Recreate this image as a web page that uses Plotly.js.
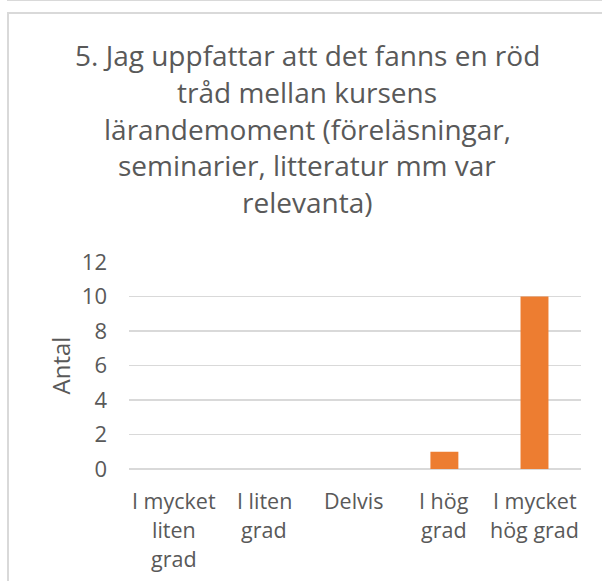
<!DOCTYPE html>
<html>
<head>
<meta charset="utf-8">
<script src="https://cdn.plot.ly/plotly-3.0.1.min.js"></script>
<style>
  html, body { margin: 0; padding: 0; background: #fff; overflow: hidden; }
  #topbox { position: absolute; left: 7px; top: -30px; width: 700px; height: 31px; border: 2px solid #d9d9d9; box-sizing: border-box; }
  #box { position: absolute; left: 7px; top: 12px; width: 700px; height: 700px; border: 2px solid #d9d9d9; box-sizing: border-box; }
  #chart { position: absolute; left: 0; top: 0; width: 602px; height: 581px; }
</style>
</head>
<body>
<div id="topbox"></div>
<div id="box"></div>
<div id="chart"></div>
<script>
// ---- data ----
const categories = ['I mycket liten grad', 'I liten grad', 'Delvis', 'I hög grad', 'I mycket hög grad'];
const categoryLabelLines = [['I mycket', 'liten', 'grad'], ['I liten', 'grad'], ['Delvis'], ['I hög', 'grad'], ['I mycket', 'hög grad']];
const values = [0, 0, 0, 1, 10];
const yTickValues = [0, 2, 4, 6, 8, 10, 12];
const titleLines = ['5. Jag uppfattar att det fanns en röd', 'tråd mellan kursens', 'lärandemoment (föreläsningar,', 'seminarier, litteratur mm var', 'relevanta)'];
const yAxisTitle = 'Antal';

// ---- styling ----
const textColor = '#595959';
const fontFamily = '"Open Sans", "Liberation Sans", sans-serif';
const plotTop = 262, plotBottom = 469, plotLeft = 129, plotRight = 581;

const annotations = [];
titleLines.forEach((line, k) => {
  const centerY = 55 + 36.75 * k;
  annotations.push({
    text: line, xref: 'paper', yref: 'paper',
    x: (307 - plotLeft) / (plotRight - plotLeft), y: 1,
    xanchor: 'center', yanchor: 'middle', yshift: plotTop - centerY,
    showarrow: false, font: { family: fontFamily, size: 28, color: textColor }
  });
});
categoryLabelLines.forEach((lines, i) => {
  lines.forEach((line, k) => {
    const centerY = 500 + 29 * k;
    annotations.push({
      text: line, xref: 'x', yref: 'paper', x: categories[i], y: 0,
      xanchor: 'center', yanchor: 'middle', yshift: plotBottom - centerY,
      showarrow: false, font: { family: fontFamily, size: 21.5, color: textColor }
    });
  });
});
annotations.push({
  text: yAxisTitle, xref: 'paper', yref: 'paper',
  x: (60 - plotLeft) / (plotRight - plotLeft), y: 0.5,
  xanchor: 'center', yanchor: 'middle', textangle: -90,
  showarrow: false, font: { family: fontFamily, size: 24, color: textColor }
});

const trace = {
  type: 'bar', x: categories, y: values,
  marker: { color: '#ED7D31' }, width: 0.31, hoverinfo: 'none'
};

const layout = {
  width: 602, height: 581,
  margin: { l: plotLeft, r: 602 - plotRight, t: plotTop, b: 581 - plotBottom, pad: 0 },
  paper_bgcolor: 'rgba(0,0,0,0)', plot_bgcolor: 'rgba(0,0,0,0)',
  showlegend: false,
  font: { family: fontFamily, color: textColor },
  xaxis: {
    type: 'category', categoryorder: 'array', categoryarray: categories,
    showticklabels: false, showgrid: false, zeroline: false, showline: false, ticks: '', fixedrange: true
  },
  yaxis: {
    range: [0, 12], tickvals: yTickValues, ticktext: yTickValues.map(String),
    showgrid: true, gridcolor: '#d9d9d9', gridwidth: 1.5,
    zeroline: true, zerolinecolor: '#d9d9d9', zerolinewidth: 1.5,
    showline: false, ticks: '', ticklabelstandoff: 21,
    tickfont: { family: fontFamily, size: 22, color: textColor }, fixedrange: true
  },
  annotations: annotations
};

Plotly.newPlot('chart', [trace], layout, { staticPlot: true, displayModeBar: false });
</script>
</body>
</html>
